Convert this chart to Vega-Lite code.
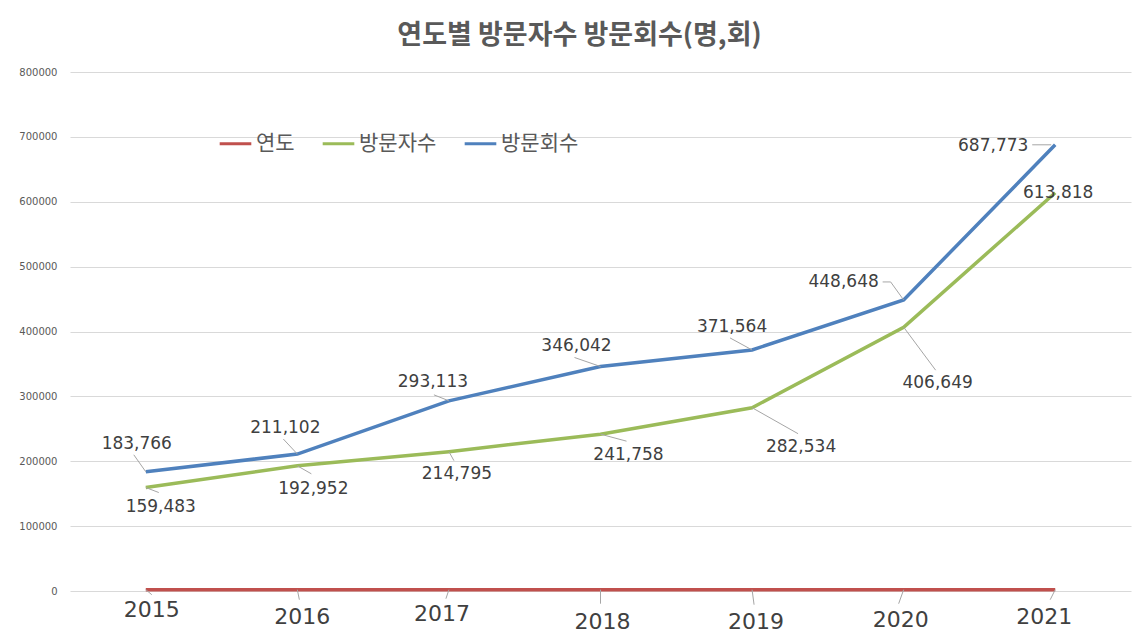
{
  "$schema": "https://vega.github.io/schema/vega-lite/v6.json",
  "width": 1061,
  "height": 519,
  "autosize": {"type": "none"},
  "padding": {"left": 70, "top": 72, "right": 10, "bottom": 45},
  "background": "#ffffff",
  "title": {
    "text": "연도별 방문자수 방문회수(명,회)",
    "font": "Noto Sans CJK KR",
    "fontSize": 27,
    "fontWeight": "bold",
    "color": "#595959",
    "anchor": "middle",
    "frame": "group",
    "dx": -21,
    "offset": 17
  },
  "config": {
    "view": {"stroke": null},
    "text": {"font": "DejaVu Sans", "fontSize": 17, "color": "#404040", "align": "center", "baseline": "middle"},
    "rule": {"color": "#a6a6a6", "strokeWidth": 1}
  },
  "data": {
    "values": [
      {"year": "2015", "series": "연도", "value": 2015},
      {"year": "2016", "series": "연도", "value": 2016},
      {"year": "2017", "series": "연도", "value": 2017},
      {"year": "2018", "series": "연도", "value": 2018},
      {"year": "2019", "series": "연도", "value": 2019},
      {"year": "2020", "series": "연도", "value": 2020},
      {"year": "2021", "series": "연도", "value": 2021},
      {"year": "2015", "series": "방문자수", "value": 159483},
      {"year": "2016", "series": "방문자수", "value": 192952},
      {"year": "2017", "series": "방문자수", "value": 214795},
      {"year": "2018", "series": "방문자수", "value": 241758},
      {"year": "2019", "series": "방문자수", "value": 282534},
      {"year": "2020", "series": "방문자수", "value": 406649},
      {"year": "2021", "series": "방문자수", "value": 613818},
      {"year": "2015", "series": "방문회수", "value": 183766},
      {"year": "2016", "series": "방문회수", "value": 211102},
      {"year": "2017", "series": "방문회수", "value": 293113},
      {"year": "2018", "series": "방문회수", "value": 346042},
      {"year": "2019", "series": "방문회수", "value": 371564},
      {"year": "2020", "series": "방문회수", "value": 448648},
      {"year": "2021", "series": "방문회수", "value": 687773}
    ]
  },
  "encoding": {
    "x": {"field": "year", "type": "ordinal", "scale": {"type": "point", "padding": 0.5}, "axis": null},
    "y": {
      "field": "value", "type": "quantitative",
      "scale": {"domain": [0, 800000], "nice": false, "zero": true},
      "axis": {
        "title": null, "values": [0, 100000, 200000, 300000, 400000, 500000, 600000, 700000, 800000],
        "format": "d", "domain": false, "ticks": false, "labelPadding": 13,
        "labelFont": "DejaVu Sans", "labelFontSize": 10, "labelColor": "#595959",
        "gridColor": "#d9d9d9", "gridWidth": 1
      }
    }
  },
  "layer": [
    {
      "mark": {"type": "line", "strokeWidth": 3.5},
      "encoding": {
        "color": {
          "field": "series", "type": "nominal",
          "scale": {"domain": ["연도", "방문자수", "방문회수"], "range": ["#C0504D", "#9BBB59", "#4F81BD"]},
          "legend": {
            "title": null, "orient": "none", "direction": "horizontal",
            "legendX": 148, "legendY": 54,
            "symbolType": "stroke", "symbolSize": 1000, "symbolStrokeWidth": 3,
            "labelFont": "Noto Sans CJK KR", "labelFontSize": 21, "labelColor": "#595959",
            "labelOffset": 3, "columnPadding": 21
          }
        }
      }
    },
    {"transform": [{"filter": "datum.series==='방문회수' && datum.year==='2015'"}], "layer": [
      {"mark": {"type": "rule", "x2Offset": -12, "y2Offset": -17}, "encoding": {"x2": {"field": "year"}, "y2": {"field": "value"}}},
      {"mark": {"type": "text", "dx": -9, "dy": -28}, "encoding": {"text": {"field": "value", "type": "quantitative", "format": ","}}}]},
    {"transform": [{"filter": "datum.series==='방문회수' && datum.year==='2016'"}], "layer": [
      {"mark": {"type": "rule", "x2Offset": -14, "y2Offset": -15}, "encoding": {"x2": {"field": "year"}, "y2": {"field": "value"}}},
      {"mark": {"type": "text", "dx": -12, "dy": -26}, "encoding": {"text": {"field": "value", "type": "quantitative", "format": ","}}}]},
    {"transform": [{"filter": "datum.series==='방문회수' && datum.year==='2017'"}], "layer": [
      {"mark": {"type": "rule", "x2Offset": -15, "y2Offset": -6}, "encoding": {"x2": {"field": "year"}, "y2": {"field": "value"}}},
      {"mark": {"type": "text", "dx": -16, "dy": -19}, "encoding": {"text": {"field": "value", "type": "quantitative", "format": ","}}}]},
    {"transform": [{"filter": "datum.series==='방문회수' && datum.year==='2018'"}], "layer": [
      {"mark": {"type": "rule", "x2Offset": -26, "y2Offset": -9}, "encoding": {"x2": {"field": "year"}, "y2": {"field": "value"}}},
      {"mark": {"type": "text", "dx": -24, "dy": -21}, "encoding": {"text": {"field": "value", "type": "quantitative", "format": ","}}}]},
    {"transform": [{"filter": "datum.series==='방문회수' && datum.year==='2019'"}], "layer": [
      {"mark": {"type": "rule", "x2Offset": -22, "y2Offset": -12}, "encoding": {"x2": {"field": "year"}, "y2": {"field": "value"}}},
      {"mark": {"type": "text", "dx": -20, "dy": -23}, "encoding": {"text": {"field": "value", "type": "quantitative", "format": ","}}}]},
    {"transform": [{"filter": "datum.series==='방문회수' && datum.year==='2020'"}], "layer": [
      {"mark": {"type": "rule", "x2Offset": -13, "y2Offset": -18}, "encoding": {"x2": {"field": "year"}, "y2": {"field": "value"}}},
      {"mark": {"type": "rule", "xOffset": -13, "yOffset": -18, "x2Offset": -21, "y2Offset": -18}, "encoding": {"x2": {"field": "year"}, "y2": {"field": "value"}}},
      {"mark": {"type": "text", "dx": -60, "dy": -18}, "encoding": {"text": {"field": "value", "type": "quantitative", "format": ","}}}]},
    {"transform": [{"filter": "datum.series==='방문회수' && datum.year==='2021'"}], "layer": [
      {"mark": {"type": "rule", "xOffset": -4, "x2Offset": -23}, "encoding": {"x2": {"field": "year"}, "y2": {"field": "value"}}},
      {"mark": {"type": "text", "dx": -62, "dy": 1}, "encoding": {"text": {"field": "value", "type": "quantitative", "format": ","}}}]},
    {"transform": [{"filter": "datum.series==='방문자수' && datum.year==='2015'"}], "layer": [
      {"mark": {"type": "rule", "x2Offset": 13, "y2Offset": 5}, "encoding": {"x2": {"field": "year"}, "y2": {"field": "value"}}},
      {"mark": {"type": "text", "dx": 15, "dy": 19}, "encoding": {"text": {"field": "value", "type": "quantitative", "format": ","}}}]},
    {"transform": [{"filter": "datum.series==='방문자수' && datum.year==='2016'"}], "layer": [
      {"mark": {"type": "rule", "x2Offset": 14, "y2Offset": 8}, "encoding": {"x2": {"field": "year"}, "y2": {"field": "value"}}},
      {"mark": {"type": "text", "dx": 16, "dy": 23}, "encoding": {"text": {"field": "value", "type": "quantitative", "format": ","}}}]},
    {"transform": [{"filter": "datum.series==='방문자수' && datum.year==='2017'"}], "layer": [
      {"mark": {"type": "rule", "x2Offset": 5, "y2Offset": 9}, "encoding": {"x2": {"field": "year"}, "y2": {"field": "value"}}},
      {"mark": {"type": "text", "dx": 8, "dy": 22}, "encoding": {"text": {"field": "value", "type": "quantitative", "format": ","}}}]},
    {"transform": [{"filter": "datum.series==='방문자수' && datum.year==='2018'"}], "layer": [
      {"mark": {"type": "rule", "x2Offset": 26, "y2Offset": 7}, "encoding": {"x2": {"field": "year"}, "y2": {"field": "value"}}},
      {"mark": {"type": "text", "dx": 28, "dy": 21}, "encoding": {"text": {"field": "value", "type": "quantitative", "format": ","}}}]},
    {"transform": [{"filter": "datum.series==='방문자수' && datum.year==='2019'"}], "layer": [
      {"mark": {"type": "rule", "x2Offset": 46, "y2Offset": 26}, "encoding": {"x2": {"field": "year"}, "y2": {"field": "value"}}},
      {"mark": {"type": "text", "dx": 49, "dy": 39}, "encoding": {"text": {"field": "value", "type": "quantitative", "format": ","}}}]},
    {"transform": [{"filter": "datum.series==='방문자수' && datum.year==='2020'"}], "layer": [
      {"mark": {"type": "rule", "x2Offset": 32, "y2Offset": 43}, "encoding": {"x2": {"field": "year"}, "y2": {"field": "value"}}},
      {"mark": {"type": "text", "dx": 34, "dy": 56}, "encoding": {"text": {"field": "value", "type": "quantitative", "format": ","}}}]},
    {"transform": [{"filter": "datum.series==='방문자수' && datum.year==='2021'"}], "layer": [
      {"mark": {"type": "text", "dx": 3, "dy": 0}, "encoding": {"text": {"field": "value", "type": "quantitative", "format": ","}}}]},
    {"transform": [{"filter": "datum.series==='연도' && datum.year==='2015'"}], "layer": [
      {"mark": {"type": "rule", "x2Offset": 6, "y2Offset": 5}, "encoding": {"x2": {"field": "year"}, "y2": {"field": "value"}}},
      {"mark": {"type": "text", "dx": 6, "dy": 20, "fontSize": 22}, "encoding": {"text": {"field": "value", "type": "quantitative", "format": "d"}}}]},
    {"transform": [{"filter": "datum.series==='연도' && datum.year==='2016'"}], "layer": [
      {"mark": {"type": "rule", "x2Offset": 2, "y2Offset": 10}, "encoding": {"x2": {"field": "year"}, "y2": {"field": "value"}}},
      {"mark": {"type": "text", "dx": 5, "dy": 27, "fontSize": 22}, "encoding": {"text": {"field": "value", "type": "quantitative", "format": "d"}}}]},
    {"transform": [{"filter": "datum.series==='연도' && datum.year==='2017'"}], "layer": [
      {"mark": {"type": "rule", "x2Offset": -3, "y2Offset": 9}, "encoding": {"x2": {"field": "year"}, "y2": {"field": "value"}}},
      {"mark": {"type": "text", "dx": -7, "dy": 24, "fontSize": 22}, "encoding": {"text": {"field": "value", "type": "quantitative", "format": "d"}}}]},
    {"transform": [{"filter": "datum.series==='연도' && datum.year==='2018'"}], "layer": [
      {"mark": {"type": "rule", "x2Offset": 0, "y2Offset": 14}, "encoding": {"x2": {"field": "year"}, "y2": {"field": "value"}}},
      {"mark": {"type": "text", "dx": 2, "dy": 32, "fontSize": 22}, "encoding": {"text": {"field": "value", "type": "quantitative", "format": "d"}}}]},
    {"transform": [{"filter": "datum.series==='연도' && datum.year==='2019'"}], "layer": [
      {"mark": {"type": "rule", "x2Offset": 2, "y2Offset": 15}, "encoding": {"x2": {"field": "year"}, "y2": {"field": "value"}}},
      {"mark": {"type": "text", "dx": 4, "dy": 32, "fontSize": 22}, "encoding": {"text": {"field": "value", "type": "quantitative", "format": "d"}}}]},
    {"transform": [{"filter": "datum.series==='연도' && datum.year==='2020'"}], "layer": [
      {"mark": {"type": "rule", "x2Offset": -5, "y2Offset": 14}, "encoding": {"x2": {"field": "year"}, "y2": {"field": "value"}}},
      {"mark": {"type": "text", "dx": -3, "dy": 30, "fontSize": 22}, "encoding": {"text": {"field": "value", "type": "quantitative", "format": "d"}}}]},
    {"transform": [{"filter": "datum.series==='연도' && datum.year==='2021'"}], "layer": [
      {"mark": {"type": "rule", "x2Offset": -5, "y2Offset": 10}, "encoding": {"x2": {"field": "year"}, "y2": {"field": "value"}}},
      {"mark": {"type": "text", "dx": -11, "dy": 27, "fontSize": 22}, "encoding": {"text": {"field": "value", "type": "quantitative", "format": "d"}}}]}
  ]
}
